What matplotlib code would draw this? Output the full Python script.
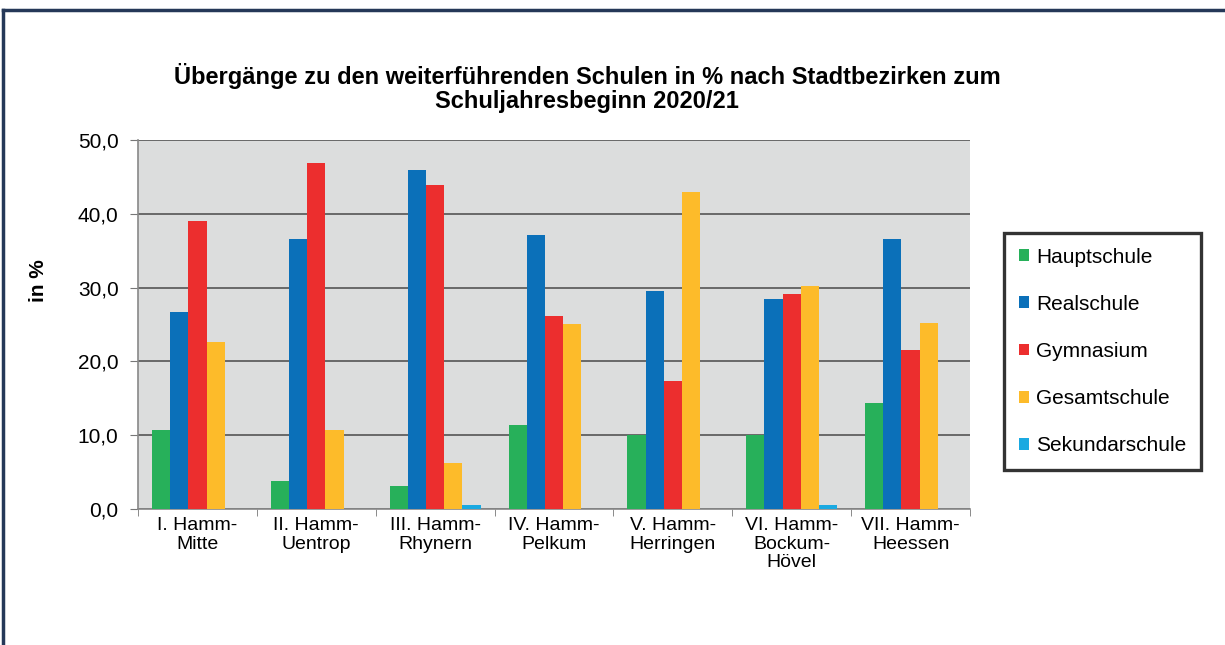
import numpy as np
import matplotlib.pyplot as plt
from matplotlib.lines import Line2D
from matplotlib.ticker import FuncFormatter

plt.rcParams['font.family'] = ['Liberation Sans', 'DejaVu Sans']

# data
bezirke = ['I. Hamm-\nMitte', 'II. Hamm-\nUentrop', 'III. Hamm-\nRhynern', 'IV. Hamm-\nPelkum',
           'V. Hamm-\nHerringen', 'VI. Hamm-\nBockum-\nHövel', 'VII. Hamm-\nHeessen']
hauptschule = [10.7, 3.8, 3.1, 11.4, 10.0, 10.0, 14.4]
realschule = [26.7, 36.6, 46.0, 37.1, 29.5, 28.5, 36.6]
gymnasium = [39.0, 46.9, 43.9, 26.2, 17.3, 29.1, 21.6]
gesamtschule = [22.6, 10.7, 6.3, 25.1, 43.0, 30.2, 25.2]
sekundarschule = [0.0, 0.0, 0.5, 0.0, 0.0, 0.5, 0.0]

series = [('Hauptschule', hauptschule, '#27b05a'),
          ('Realschule', realschule, '#0b70b9'),
          ('Gymnasium', gymnasium, '#ec2e2e'),
          ('Gesamtschule', gesamtschule, '#fdbb2a'),
          ('Sekundarschule', sekundarschule, '#1aa9e1')]

fig = plt.figure(figsize=(12.25, 6.45), dpi=100)
ax = fig.add_axes([138/1225, 1-509/645, 832/1225, 369/645])
ax.set_facecolor('#dcdddd')

x = np.arange(len(bezirke))
w = 0.153
for i, (name, vals, col) in enumerate(series):
    ax.bar(x + (i - 2) * w, vals, w, color=col, label=name, zorder=3)

ax.set_xlim(-0.5, len(bezirke) - 0.5)
ax.set_ylim(0, 50)
ax.set_yticks(np.arange(0, 51, 10))
ax.yaxis.set_major_formatter(FuncFormatter(lambda v, p: ('%.1f' % v).replace('.', ',')))
ax.grid(axis='y', color='#555555', linewidth=1.2, zorder=1)
ax.set_xticks(x)
ax.set_xticklabels(bezirke, fontsize=14, linespacing=1.1)
ax.set_xticks(np.arange(-0.5, len(bezirke)), minor=True)
ax.tick_params(axis='x', which='major', length=0, pad=6)
ax.tick_params(axis='x', which='minor', length=5, color='#777777')
ax.tick_params(axis='y', length=6, color='#777777', labelsize=15, pad=8)
for s in ['top', 'right']:
    ax.spines[s].set_visible(False)
for s in ['left', 'bottom']:
    ax.spines[s].set_color('#888888')
    ax.spines[s].set_linewidth(1.2)

fig.text(38/1225, 1-281/645, 'in %', rotation=90, fontsize=15, fontweight='bold',
         ha='center', va='center')
fig.text(587/1225, 1-88/645,
         'Übergänge zu den weiterführenden Schulen in % nach Stadtbezirken zum\nSchuljahresbeginn 2020/21',
         fontsize=17, fontweight='bold', ha='center', va='center', linespacing=1.05)

leg = fig.legend(loc='upper left', bbox_to_anchor=(1004/1225, 1-233/645), fontsize=15,
                 frameon=True, fancybox=False, handlelength=0.5, handleheight=0.5,
                 handletextpad=0.35, labelspacing=1.35, borderpad=0.7, borderaxespad=0)
leg.get_frame().set_edgecolor('black')
leg.get_frame().set_linewidth(2.4)

# outer frame: top and left edges only
fig.add_artist(Line2D([3/1225, 1], [1-10/645, 1-10/645], transform=fig.transFigure,
                      color='#253858', linewidth=2.5))
fig.add_artist(Line2D([3/1225, 3/1225], [0, 1-10/645], transform=fig.transFigure,
                      color='#253858', linewidth=2.5))

plt.savefig('out.png', dpi=100)
